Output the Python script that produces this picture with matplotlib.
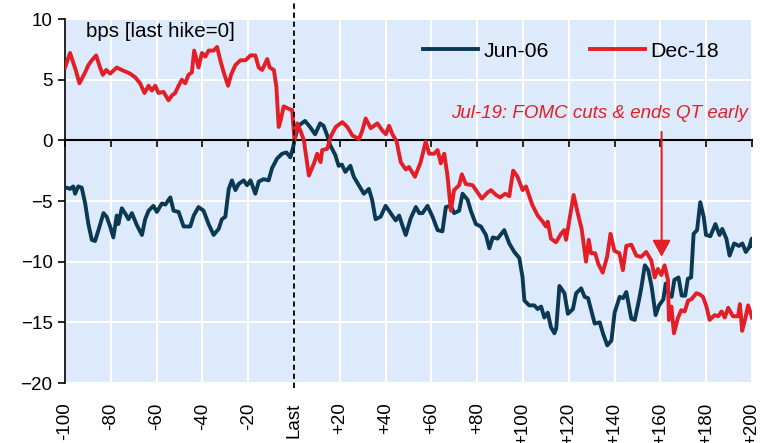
import matplotlib.pyplot as plt
import numpy as np

plt.rcParams["font.family"] = ["Liberation Sans", "DejaVu Sans"]

# ============================================================
# DATA  (days relative to last hike, bps)
# ============================================================

jun06_day = [-100, -99.3, -97.8, -96.4, -95.6, -94.2, -92.7, -91.2, -89.8, -88.3,
             -86.9, -85.4, -83.2, -81.8, -80.3, -78.9, -77.4, -76.7, -75.2, -73.8,
             -72.3, -70.8, -68.6, -66.4, -65, -63.5, -61.4, -59.9, -57.7, -56.2,
             -54, -52.6, -50.4, -48.2, -45.3, -43.8, -41.7, -39.5, -37.3, -35.1,
             -32.9, -31.5, -30, -28.5, -27.1, -25.6, -24.2, -22, -20.5, -19,
             -16.9, -15.4, -13.3, -11.1, -9.6, -7.4, -5.2, -3.3, -1.6, -0.3,
             0.2, 1.9, 4.8, 7, 9.2, 11.4, 12.9, 14.3, 15.8, 18,
             19.5, 20.9, 22.4, 24.6, 26.1, 28.3, 30.5, 32.7, 34.1, 35.6,
             37.8, 40, 42.2, 44.4, 45.9, 47.3, 48.8, 51, 53.2, 54.7,
             56.1, 58.3, 60.5, 62.7, 64.8, 66.3, 68.5, 69.9, 72.1, 73.6,
             75.8, 77.2, 79.4, 81.6, 83.8, 85.3, 86.8, 88.9, 91.8, 94,
             96.2, 98.4, 99.8, 100.6, 102.7, 104.9, 106.4, 107.9, 109.3, 110.8,
             112.2, 113.7, 114.5, 115.9, 118.1, 119.6, 121.8, 123.2, 125.4, 126.9,
             128.4, 129.8, 131.3, 133.5, 134.9, 136.8, 138.6, 140, 142.2, 143.7,
             145.1, 147.3, 148.8, 150.6, 151.7, 153.2, 154.7, 156.2, 157.9, 159.4,
             161.3, 162.3, 163.5, 164.9, 166.1, 167.9, 169.3, 170.8, 172, 173.4,
             174.5, 176, 177.4, 178.9, 179.9, 181.8, 184, 185.8, 187, 188.8,
             190.2, 192.2, 194.3, 195.8, 197.3, 198.8, 199.9, 200]
jun06_bps = [-3.9, -3.9, -4.0, -3.8, -4.4, -3.8, -3.9, -5.2, -6.9, -8.2,
             -8.3, -7.4, -6.0, -6.3, -7.1, -8.0, -6.2, -6.9, -5.6, -6.0,
             -6.5, -6.0, -7.0, -7.8, -6.5, -5.8, -5.4, -5.9, -5.2, -5.3,
             -4.7, -5.8, -5.9, -7.1, -7.1, -6.2, -5.5, -5.8, -6.9, -7.8,
             -7.3, -6.5, -6.3, -4.0, -3.3, -4.1, -3.6, -3.3, -3.7, -3.3,
             -4.4, -3.4, -3.2, -3.3, -2.3, -1.5, -1.1, -1.0, -1.4, -0.5,
             0.0, 1.2, 1.6, 1.1, 0.5, 1.4, 1.2, 0.5, -0.4, -1.2,
             -2.1, -2.0, -2.6, -2.1, -3.0, -3.7, -4.4, -4.0, -4.9, -6.5,
             -6.3, -5.4, -6.0, -6.6, -6.2, -7.0, -7.8, -6.4, -5.5, -6.0,
             -6.0, -5.4, -6.3, -7.4, -7.5, -5.5, -5.4, -6.0, -5.8, -4.4,
             -4.9, -5.8, -6.9, -7.1, -7.8, -8.9, -8.0, -8.1, -7.4, -8.5,
             -9.2, -9.7, -11.3, -13.2, -13.6, -13.6, -13.9, -13.7, -14.6, -14.2,
             -15.4, -15.9, -15.5, -12.0, -12.6, -14.3, -13.9, -12.6, -12.2, -12.9,
             -13.0, -14.0, -15.1, -15.0, -15.9, -16.9, -16.5, -14.2, -12.9, -13.0,
             -12.5, -14.7, -14.8, -13.2, -12.1, -10.3, -10.7, -12.1, -14.4, -13.6,
             -13.1, -11.8, -12.6, -12.9, -11.5, -11.3, -12.8, -12.8, -11.4, -11.3,
             -7.7, -7.4, -5.1, -6.3, -7.8, -7.9, -6.9, -7.8, -7.3, -8.1,
             -9.5, -8.5, -8.7, -8.5, -9.2, -8.8, -8.1, -8.7]

dec18_day = [-100, -97.8, -95.5, -93.7, -91.2, -89.8, -88.3, -86.4, -84.7, -83.5,
             -82, -80.3, -77.4, -75.2, -71.6, -69.4, -67.2, -65.3, -63.5, -62.1,
             -60.6, -59.2, -57, -54.8, -53.3, -51.9, -50.4, -49, -47.5, -46.1,
             -44.6, -43.6, -41.7, -40.2, -38.7, -37.3, -35.1, -33.6, -32.2, -30.7,
             -28.8, -27.5, -25.6, -23.4, -21.2, -19, -16.9, -15.4, -13.9, -11.7,
             -10.6, -8.8, -7.7, -6.7, -5.9, -4.5, -2.3, -0.8, 0.2, 1.4,
             2.8, 4.3, 6.5, 8.7, 10.1, 11.6, 12.3, 14.5, 16, 18.2,
             21.1, 23.3, 25.5, 28.4, 29.8, 31.3, 33.5, 36.4, 38.6, 40.1,
             41.5, 43, 44.8, 46.6, 48.8, 50.2, 52.8, 55.3, 57.5, 59,
             61.2, 62.7, 64.1, 65.6, 67, 68.5, 69.9, 72.1, 73.3, 75,
             78, 80.2, 82, 84.5, 86, 88.2, 90, 92.2, 94, 95.7,
             97.6, 99.8, 101.3, 104, 106.4, 108.6, 110, 110.8, 112.2, 114.4,
             116.6, 118, 118.8, 120.2, 122.1, 123.9, 125.6, 127.5, 128.7, 129.7,
             131.5, 132.9, 134.8, 136.7, 138.2, 139.9, 142.1, 143.6, 145.1, 147.3,
             149.5, 151.6, 153.8, 156, 157.5, 158.9, 160.4, 161.8, 163.3, 163.7,
             164.8, 165.9, 167.7, 169.1, 170.6, 172.1, 173.5, 175.7, 177.2, 178.6,
             180.1, 181.5, 183.7, 185.2, 186.7, 188.1, 189.6, 191.7, 193.9, 194.7,
             195.7, 196.9, 198.3, 199.8, 200]
dec18_bps = [6.0, 7.2, 5.9, 4.7, 5.6, 6.2, 6.6, 7.0, 6.0, 5.4,
             5.8, 5.5, 6.0, 5.8, 5.5, 5.2, 4.7, 3.9, 4.5, 4.1,
             4.5, 3.9, 4.0, 3.3, 3.7, 3.9, 4.5, 5.0, 4.7, 5.4,
             5.6, 7.4, 6.0, 7.2, 6.9, 7.4, 7.4, 7.7, 6.6, 5.6,
             4.5, 5.4, 6.2, 6.6, 6.6, 7.0, 7.0, 6.0, 5.8, 6.7,
             6.0, 5.8, 4.4, 1.1, 1.6, 2.8, 2.6, 2.5, 0.0, 1.4,
             0.8, 0.0, -2.9, -1.9, -1.1, -1.8, -0.8, -0.7, 0.3, 1.1,
             1.5, 1.1, 0.4, 0.1, 0.8, 1.8, 1.0, 1.4, 0.8, 0.5,
             1.2, 0.5, -0.1, -1.8, -2.4, -2.2, -3.0, -1.8, -0.1, -1.1,
             -1.1, -0.8, -1.9, -1.1, -2.9, -5.8, -4.1, -3.7, -2.8, -3.6,
             -3.7, -4.3, -4.8, -4.3, -4.1, -4.5, -4.7, -4.4, -4.6, -2.5,
             -3.0, -4.1, -3.8, -5.3, -6.2, -6.7, -7.1, -6.7, -8.1, -8.4,
             -7.7, -7.4, -8.2, -6.6, -4.5, -6.0, -7.3, -10.0, -8.2, -9.3,
             -9.3, -10.2, -10.9, -9.6, -7.7, -9.1, -9.3, -10.7, -8.7, -8.6,
             -9.5, -9.6, -9.2, -9.9, -11.3, -10.6, -11.1, -10.3, -11.5, -14.8,
             -13.7, -15.9, -14.6, -14.0, -14.1, -13.2, -13.1, -12.6, -12.7, -12.9,
             -13.7, -14.8, -14.4, -14.5, -14.1, -14.6, -13.8, -14.5, -14.5, -13.5,
             -15.7, -14.8, -13.6, -14.5, -14.6]

x_ticks = list(range(-100, 201, 20))
x_labels = ["-100", "-80", "-60", "-40", "-20", "Last", "+20", "+40", "+60",
            "+80", "+100", "+120", "+140", "+160", "+180", "+200"]
y_ticks = [-20, -15, -10, -5, 0, 5, 10]

NAVY = "#0B3954"
RED = "#E41E26"
BG = "#DDEAFB"

# ============================================================
# FIGURE
# ============================================================

fig = plt.figure(figsize=(7.74, 4.43), dpi=100)
ax = fig.add_axes([0.084, 0.1354, 0.8876, 0.8217])
ax.set_facecolor(BG)

ax.set_xlim(-100, 200)
ax.set_ylim(-20, 10)

ax.set_xticks(x_ticks)
ax.set_yticks(y_ticks)
ax.grid(True, color="white", lw=1.5)
ax.set_axisbelow(True)

for s in ["top", "right"]:
    ax.spines[s].set_visible(False)
ax.spines["left"].set_linewidth(1.2)
ax.spines["bottom"].set_position(("data", 0))
ax.spines["bottom"].set_linewidth(1.5)

ax.tick_params(axis="y", direction="out", length=5, width=1.2,
               labelsize=13.5, pad=4)
ax.tick_params(axis="x", direction="out", length=5, width=1.2,
               labelbottom=False)

# tick labels sit under the plot, the zero line carries the tick marks
sec = ax.secondary_xaxis(0.0)
sec.set_xticks(x_ticks)
sec.set_xticklabels(x_labels, rotation=90, fontsize=13.5, va="top")
sec.tick_params(length=0, pad=14)
sec.spines["bottom"].set_visible(False)

ax.plot(jun06_day, jun06_bps, color=NAVY, lw=2.8, label="Jun-06", zorder=3)
ax.plot(dec18_day, dec18_bps, color=RED, lw=2.8, label="Dec-18", zorder=4)

ax.axvline(0, ymin=-0.015, ymax=1.055, color="black", lw=1.3,
           ls=(0, (3, 2)), clip_on=False, zorder=5)

ax.text(0.031, 0.966, "bps [last hike=0]", transform=ax.transAxes,
        fontsize=14.8, va="center", ha="left")

leg = ax.legend(loc="center right", bbox_to_anchor=(0.98, 0.912), ncol=2,
                frameon=False, fontsize=15.3, handlelength=2.6,
                handletextpad=0.25, columnspacing=1.95)

ax.text(198.3, 2.2, "Jul-19: FOMC cuts & ends QT early", color=RED,
        fontsize=13.5, style="italic", ha="right", va="center")
ax.annotate("", xy=(160.5, -9.6), xytext=(160.5, 0.7),
            arrowprops=dict(arrowstyle="-|>,head_length=1.0,head_width=0.55",
                            color=RED, lw=1.5, mutation_scale=10,
                            shrinkA=0, shrinkB=0), zorder=6)

plt.savefig("out.png", dpi=100)
plt.close()
